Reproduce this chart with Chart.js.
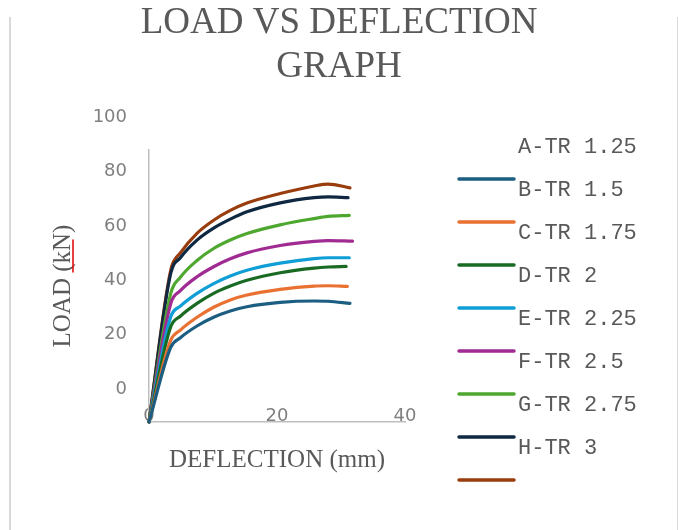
<!DOCTYPE html>
<html>
<head>
<meta charset="utf-8">
<script src="https://cdn.jsdelivr.net/npm/chart.js@4.4.1/dist/chart.umd.min.js"></script>
<style>
  html, body { margin: 0; padding: 0; background: #fff; }
  #frame { position: absolute; left: 9px; top: 17px; width: 666px; height: 513px;
           border-left: 2px solid #d9d9d9; border-right: 2px solid #d9d9d9; }
  #wrap { position: absolute; left: 0; top: 0; width: 678px; height: 530px; }
</style>
</head>
<body>
<div id="frame"></div>
<div id="wrap"><canvas id="loadChart"></canvas></div>
<script>
// deflection (mm) sample points shared by all specimens, last point is per-series
var deflection = [0, 3.4, 4.9, 7.5, 10.1, 12.7, 15.3, 20.5, 25.8, 28];
var endDeflection = [31.4, 31.0, 30.8, 31.3, 31.8, 31.3, 31.1, 31.4];

var names = ['A-TR 1.25', 'B-TR 1.5', 'C-TR 1.75', 'D-TR 2', 'E-TR 2.25', 'F-TR 2.5', 'G-TR 2.75', 'H-TR 3'];
var colors = ['#1B5E82', '#E97132', '#196B24', '#0F9ED5', '#A02B93', '#4EA72E', '#0E2841', '#9A3D0E'];

// load (kN)
var loadA = [0, 27.5, 31.0, 35.3, 38.5, 40.8, 42.4, 44.0, 44.5, 44.4, 43.6];
var loadB = [0, 30.1, 33.8, 38.5, 42.2, 44.9, 46.7, 48.8, 50.0, 50.1, 49.9];
var loadC = [0, 35.0, 38.9, 43.6, 47.3, 50.0, 52.1, 54.9, 56.6, 57.0, 57.2];
var loadD = [0, 38.7, 42.6, 47.3, 50.9, 53.7, 55.8, 58.4, 60.1, 60.4, 60.4];
var loadE = [0, 43.6, 48.3, 53.4, 57.1, 60.0, 62.2, 64.9, 66.4, 66.7, 66.5];
var loadF = [0, 47.3, 53.2, 59.4, 63.8, 66.9, 69.3, 72.5, 74.8, 75.6, 76.0];
var loadG = [0, 54.7, 60.4, 66.9, 71.3, 74.6, 77.3, 80.6, 82.5, 82.8, 82.5];
var loadH = [0, 55.9, 62.2, 69.4, 74.2, 77.8, 80.5, 84.0, 86.8, 87.5, 86.1];
var loads = [loadA, loadB, loadC, loadD, loadE, loadF, loadG, loadH];

var xTicks = [0, 20, 40];
var yTicks = [0, 20, 40, 60, 80, 100];

var datasets = loads.map(function (ld, i) {
    var xs = deflection.concat([endDeflection[i]]);
    return {
        label: names[i],
        data: ld.map(function (v, j) { return { x: xs[j], y: v }; }),
        borderColor: colors[i],
        backgroundColor: colors[i],
        borderWidth: 3.2,
        pointRadius: 0,
        cubicInterpolationMode: 'monotone',
        borderCapStyle: 'round',
        clip: false
    };
});

// legend drawn by hand: text sits one row above its line, like the source
var offsetLegend = {
    id: 'offsetLegend',
    afterDraw: function (chart) {
        var ctx = chart.ctx, area = chart.chartArea;
        var x0 = area.right + 54, y0 = area.top + 29, step = 43;
        ctx.save();
        chart.data.datasets.forEach(function (ds, i) {
            var y = y0 + step * i;
            ctx.strokeStyle = ds.borderColor;
            ctx.lineWidth = 3.5;
            ctx.lineCap = 'round';
            ctx.beginPath();
            ctx.moveTo(x0, y);
            ctx.lineTo(x0 + 55, y);
            ctx.stroke();
            ctx.fillStyle = '#595959';
            ctx.font = '22px "Liberation Mono", monospace';
            ctx.textBaseline = 'middle';
            ctx.textAlign = 'left';
            ctx.fillText(ds.label, x0 + 59, y - 32);
        });
        // spell-check mark under "kN"
        ctx.strokeStyle = '#e00000';
        ctx.lineWidth = 1.5;
        ctx.beginPath();
        ctx.moveTo(73, 240);
        ctx.lineTo(73, 272);
        ctx.stroke();
        ctx.restore();
    }
};

new Chart(document.getElementById('loadChart').getContext('2d'), {
    type: 'line',
    data: { datasets: datasets },
    plugins: [offsetLegend],
    options: {
        responsive: true,
        maintainAspectRatio: false,
        animation: false,
        layout: { padding: 0 },
        plugins: {
            legend: { display: false },
            tooltip: { enabled: false },
            title: {
                display: true,
                text: ['LOAD VS DEFLECTION', 'GRAPH'],
                color: '#595959',
                font: { family: '"Liberation Serif", serif', size: 37, weight: 'normal', lineHeight: 1.19 },
                padding: { top: 1, bottom: 61 }
            }
        },
        scales: {
            x: {
                type: 'linear',
                min: 0,
                max: 40,
                afterBuildTicks: function (s) { s.ticks = xTicks.map(function (v) { return { value: v }; }); },
                afterFit: function (s) { s.height = 108; },
                grid: { display: false, drawTicks: false },
                border: { display: true, color: '#bfbfbf', width: 1.5 },
                ticks: {
                    display: true,
                    autoSkip: false,
                    mirror: true,
                    color: '#808080',
                    padding: -5,
                    maxRotation: 0,
                    font: { family: '"DejaVu Sans", sans-serif', size: 18 }
                },
                title: {
                    display: true,
                    text: 'DEFLECTION (mm)',
                    color: '#595959',
                    font: { family: '"Liberation Serif", serif', size: 25 },
                    padding: { top: 0, bottom: 55 }
                }
            },
            y: {
                min: 0,
                max: 100,
                afterBuildTicks: function (s) { s.ticks = yTicks.map(function (v) { return { value: v }; }); },
                afterFit: function (s) { s.width = 149; },
                grid: { display: false, drawTicks: false },
                border: { display: true, color: '#bfbfbf', width: 1.5 },
                ticks: {
                    color: '#808080',
                    padding: 22,
                    labelOffset: -33,
                    font: { family: '"DejaVu Sans", sans-serif', size: 18 }
                },
                title: {
                    display: true,
                    text: 'LOAD (kN)',
                    color: '#595959',
                    font: { family: '"Liberation Serif", serif', size: 25 },
                    padding: { top: 48, bottom: 0 }
                }
            },
            // empty right-hand box that keeps room for the legend
            legendSpace: {
                position: 'right',
                display: true,
                afterFit: function (s) { s.width = 273; },
                grid: { display: false },
                border: { display: false },
                ticks: { display: false }
            }
        }
    }
});
</script>
</body>
</html>
